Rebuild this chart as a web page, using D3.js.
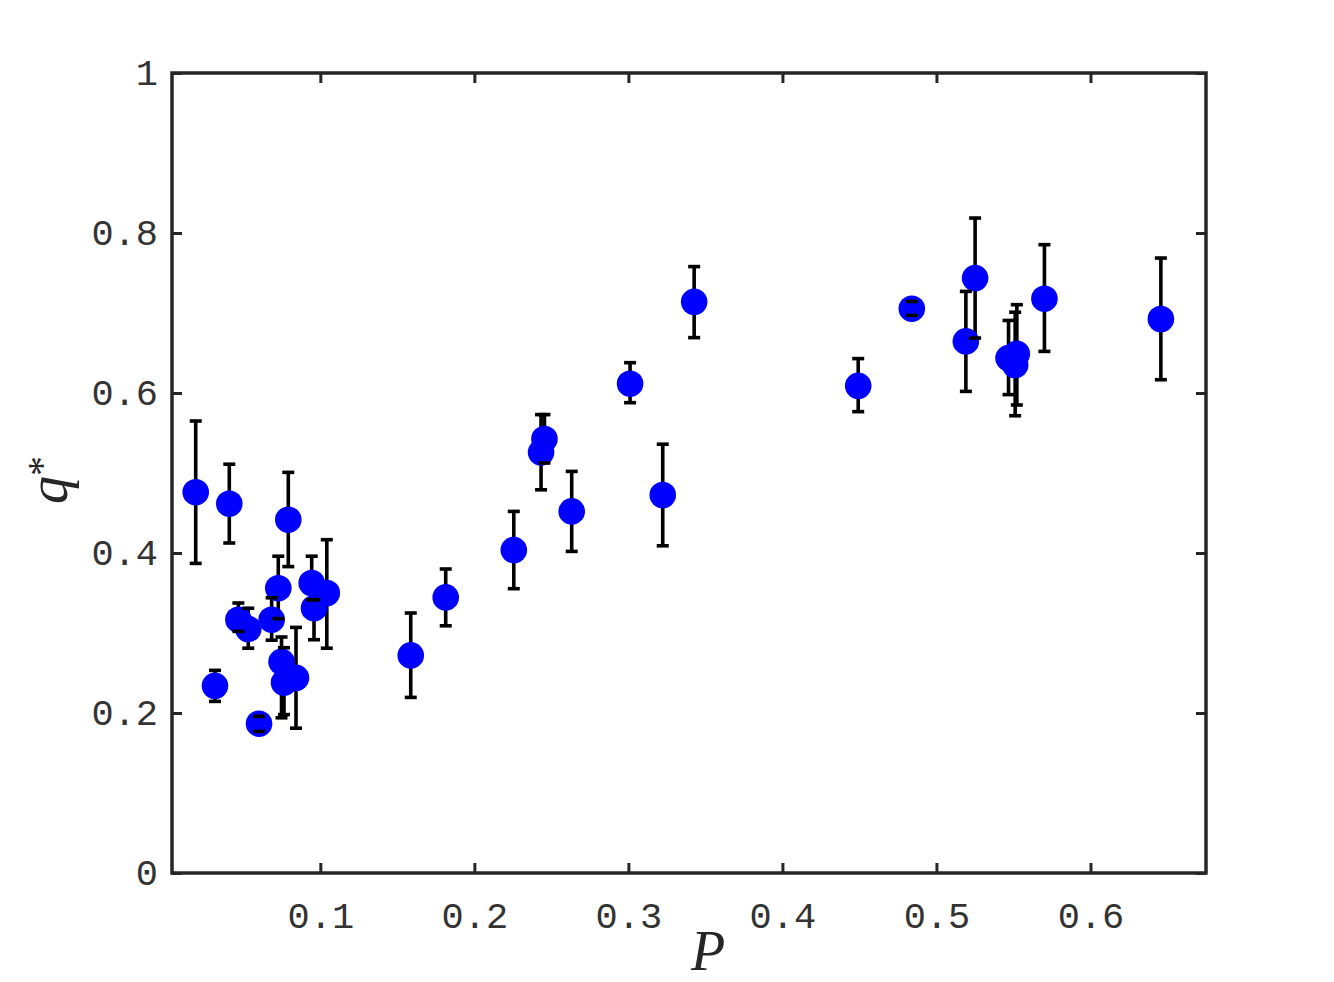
<!DOCTYPE html>
<html>
<head>
<meta charset="utf-8">
<script src="https://cdn.jsdelivr.net/npm/d3@7"></script>
<style>
  html, body { margin: 0; padding: 0; background: #ffffff; }
  svg { display: block; }
</style>
</head>
<body>
<svg id="chart" width="1334" height="982"></svg>
<script>
// ---- data ----
const P     = [0.0191, 0.0409, 0.0792, 0.0727, 0.0944, 0.1042, 0.0959, 0.0468, 0.0532, 0.0684, 0.0748, 0.0316, 0.0602, 0.0764, 0.0842, 0.1587, 0.1814, 0.2256, 0.2455, 0.2433, 0.2632, 0.3011, 0.3223, 0.3427, 0.4492, 0.4840, 0.5191, 0.5251, 0.5468, 0.5522, 0.5511, 0.5701, 0.6457];
const qStar = [0.476, 0.4616, 0.4416, 0.356, 0.3625, 0.350, 0.331, 0.3166, 0.305, 0.3166, 0.264, 0.234, 0.1866, 0.238, 0.244, 0.272, 0.3445, 0.4037, 0.5425, 0.5258, 0.452, 0.6116, 0.4725, 0.714, 0.609, 0.7054, 0.6645, 0.7437, 0.6437, 0.649, 0.635, 0.7179, 0.6925];
const qLow  = [0.387, 0.4125, 0.383, 0.318, 0.3416, 0.281, 0.2916, 0.302, 0.281, 0.291, 0.194, 0.2145, 0.177, 0.198, 0.181, 0.2195, 0.309, 0.3554, 0.5125, 0.479, 0.402, 0.5879, 0.409, 0.6692, 0.5767, 0.697, 0.602, 0.6687, 0.598, 0.585, 0.5716, 0.652, 0.6166];
const qHigh = [0.565, 0.511, 0.5008, 0.396, 0.396, 0.4166, 0.3416, 0.3375, 0.331, 0.344, 0.295, 0.2533, 0.1958, 0.2816, 0.307, 0.325, 0.380, 0.452, 0.573, 0.573, 0.502, 0.6379, 0.536, 0.758, 0.643, 0.7145, 0.727, 0.8187, 0.6907, 0.7104, 0.701, 0.7854, 0.7687];
const xTicks = [0.1, 0.2, 0.3, 0.4, 0.5, 0.6];
const xTickLabels = ["0.1", "0.2", "0.3", "0.4", "0.5", "0.6"];
const yTicks = [0, 0.2, 0.4, 0.6, 0.8, 1];
const yTickLabels = ["0", "0.2", "0.4", "0.6", "0.8", "1"];
const xDomain = [0.0037, 0.675];
const yDomain = [0, 1];

const data = P.map((p, i) => ({ p, q: qStar[i], lo: qLow[i], hi: qHigh[i] }));

// ---- layout ----
const L = 172, R = 1206, T = 73, B = 873;
const axisColor = "#262626";
const svg = d3.select("#chart");

const x = d3.scaleLinear().domain(xDomain).range([L, R]);
const y = d3.scaleLinear().domain(yDomain).range([B, T]);

// ---- error bars: stems ----
const g = svg.append("g");
g.selectAll("line.stem").data(data).join("line")
  .attr("class", "stem")
  .attr("x1", d => x(d.p)).attr("x2", d => x(d.p))
  .attr("y1", d => y(d.lo)).attr("y2", d => y(d.hi))
  .attr("stroke", "#000").attr("stroke-width", 3.6);

// ---- markers ----
g.selectAll("circle.pt").data(data).join("circle")
  .attr("class", "pt")
  .attr("cx", d => x(d.p)).attr("cy", d => y(d.q))
  .attr("r", 13.3)
  .attr("fill", "#0000ff");

// ---- caps ----
const capHalf = 6;
const caps = data.flatMap(d => [{ p: d.p, v: d.lo }, { p: d.p, v: d.hi }]);
g.selectAll("line.cap").data(caps).join("line")
  .attr("class", "cap")
  .attr("x1", d => x(d.p) - capHalf).attr("x2", d => x(d.p) + capHalf)
  .attr("y1", d => y(d.v)).attr("y2", d => y(d.v))
  .attr("stroke", "#000").attr("stroke-width", 3.6);

// ---- axes (box with inward ticks on all sides) ----
const tickLen = 10;
const fontMono = "'Liberation Mono', 'Courier New', monospace";

const xAxisB = d3.axisBottom(x).tickValues(xTicks).tickSizeInner(-tickLen).tickSizeOuter(0)
  .tickFormat((d, i) => xTickLabels[i]).tickPadding(29);
const xAxisT = d3.axisTop(x).tickValues(xTicks).tickSizeInner(-tickLen).tickSizeOuter(0).tickFormat("");
const yAxisL = d3.axisLeft(y).tickValues(yTicks).tickSizeInner(-tickLen).tickSizeOuter(0)
  .tickFormat((d, i) => yTickLabels[i]).tickPadding(14);
const yAxisR = d3.axisRight(y).tickValues(yTicks).tickSizeInner(-tickLen).tickSizeOuter(0).tickFormat("");

function styleAxis(sel) {
  sel.select(".domain").remove();
  sel.selectAll(".tick line").attr("stroke", axisColor).attr("stroke-width", 3);
  sel.selectAll(".tick text").attr("fill", "#333333")
    .style("font-family", fontMono).style("font-size", "37px");
}
svg.append("g").attr("transform", `translate(0,${B})`).call(xAxisB).call(styleAxis);
svg.append("g").attr("transform", `translate(0,${T})`).call(xAxisT).call(styleAxis);
svg.append("g").attr("transform", `translate(${L},0)`).call(yAxisL).call(styleAxis);
svg.append("g").attr("transform", `translate(${R},0)`).call(yAxisR).call(styleAxis);

// frame
svg.append("rect")
  .attr("x", L).attr("y", T).attr("width", R - L).attr("height", B - T)
  .attr("fill", "none").attr("stroke", axisColor).attr("stroke-width", 3.5);

// ---- axis labels ----
const fontSerif = "'Liberation Serif', 'Times New Roman', serif";
svg.append("text")
  .attr("x", 708).attr("y", 970)
  .attr("text-anchor", "middle")
  .style("font-family", fontSerif).style("font-style", "italic").style("font-size", "56px")
  .attr("fill", axisColor)
  .text("P");

const yl = svg.append("text")
  .attr("transform", "translate(67,480) rotate(-90)")
  .attr("text-anchor", "middle")
  .style("font-family", fontSerif).style("font-size", "56px")
  .attr("fill", axisColor);
yl.append("tspan").style("font-style", "italic").text("q");
yl.append("tspan").attr("dy", -12).style("font-size", "40px").text("*");
</script>
</body>
</html>
